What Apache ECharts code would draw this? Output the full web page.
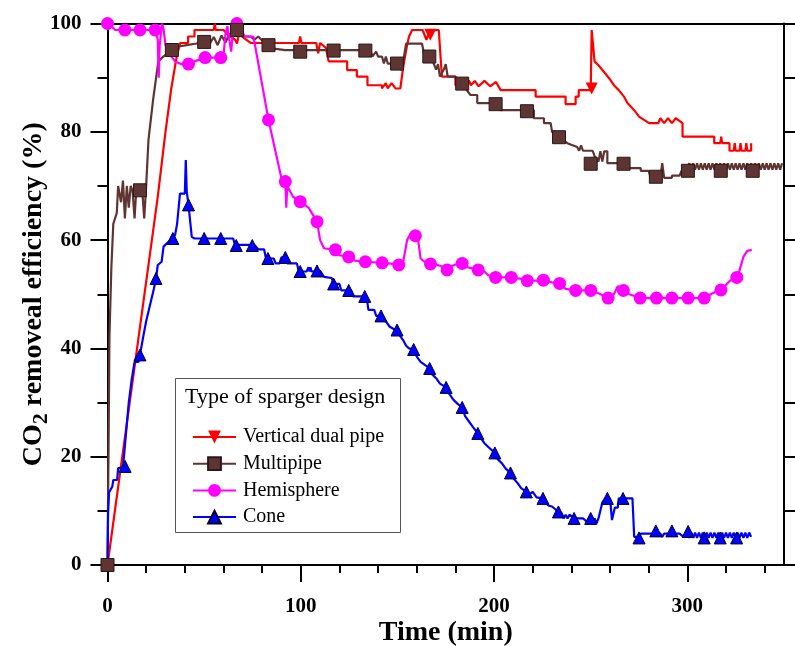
<!DOCTYPE html>
<html><head><meta charset="utf-8">
<script src="https://cdn.jsdelivr.net/npm/echarts@6/dist/echarts.min.js"></script>
<style>html,body{margin:0;padding:0;background:#fff}#c{width:795px;height:646px}</style>
</head><body><div id="c"></div>
<script>
const seriesNames = ['Vertical dual pipe', 'Multipipe', 'Hemisphere', 'Cone'];
const xMajorTicks = [0, 100, 200, 300];
const xMinorTicks = [20, 40, 60, 80, 120, 140, 160, 180, 220, 240, 260, 280, 320, 340];
const yMajorTicks = [0, 20, 40, 60, 80, 100];
const yMinorTicks = [10, 30, 50, 70, 90];
const yRightTicks = [0, 10, 20, 30, 40, 50, 60, 70, 80, 90, 100];

const dualPipeLine = [[0,0],[26,68],[30,80],[33,88],[35.8,93.9],[37.6,96.4],[41.7,96.4],[41.7,97.6],[45,97.6],[45,98.8],[55,98.8],[55.5,100],[56,98.8],[60,98.8],[62,98],[66,97],[67,96.3],[68,98],[70,97.5],[74,96.4],[77,96.4],[99,96.4],[99.7,97.6],[100.3,96.4],[108,96.4],[109,94.5],[110,96.4],[113,95.5],[114.4,93],[124,93],[124,91.4],[129,91.4],[129,90.2],[134.5,90.2],[134.5,88.6],[142,88.6],[142,88],[144,89],[145,88],[147,89],[149,88],[151.5,88],[153,92],[155,96],[156,97.6],[157.6,98.8],[163,98.8],[165,97],[167,98.8],[171.4,98.8],[173,90.2],[180,90.2],[180,88.6],[186,88.6],[187,89.5],[188,88.6],[190,89.4],[192,88.4],[195,89.4],[198,88.4],[201,89.2],[203.4,87.7],[221.5,87.7],[221.5,86.5],[237,86.5],[237,85.1],[242.2,85.1],[242.2,86.5],[243.8,86.5],[243.8,87.7],[250,87.7],[250.5,98.8],[252,93],[254,92.3],[256.8,91.1],[259.5,89.9],[262,88.6],[264.5,87.7],[267.2,86.5],[269,85.3],[272.5,84],[275,82.8],[280.2,81.6],[285,81.6],[286,82.5],[288,81.6],[290,82.5],[292,81.6],[294,82.5],[297.5,81.6],[297.5,79.1],[313.9,79.1],[313.9,77.9],[317,77.9],[317.5,79.1],[318,77.9],[321.8,77.9],[321.8,76.5],[324,76.5],[324.5,77.9],[325,76.5],[327,76.5],[327.5,77.9],[328,76.5],[330,76.5],[330.5,77.9],[331,76.5],[333,76.5],[333,77.9]];
const dualPipeMarkers = [[0,0],[167,97.9],[250.5,88]];

const multipipeLine = [[0,0],[0.5,20],[1,42],[2,55],[3,63],[4.8,65],[5.5,70],[7,67],[8,71],[9,64],[10,70],[11,66],[12,70],[13,69],[14,64],[15,70],[16,69],[18,69],[19,64],[20,70],[20.3,70],[21.2,78.5],[23.7,86.2],[26.3,93],[28.9,93.9],[33.3,95.1],[36,95.7],[41,96],[46,96.3],[50,96.6],[53,96.3],[55,97.5],[57,96],[59,97.8],[61,96.5],[63,98],[65,98.5],[67,98.8],[70,97.6],[74,97.6],[76,97],[78,97.6],[81,96.5],[83.3,96],[87,95.3],[92,95.1],[136,95.1],[137,93.9],[139,94.8],[140,93.9],[142,93.9],[143,92.6],[144,93.9],[145,92.6],[150,92.6],[152,91.4],[153,93],[154.5,96.3],[162.7,96.3],[164,94],[166.7,93.9],[168.8,92.6],[170,91.5],[171,92.5],[172,90.2],[174,91.5],[175,92.5],[176,90.2],[180,90.2],[181,89],[183.5,88.8],[187.8,86.8],[191.3,86.8],[191.3,85.3],[203.4,85.3],[203.4,84],[220.6,84],[220.6,82.5],[225.8,82.5],[225.8,81.6],[229.3,81.6],[230,80],[233.6,79.1],[237.9,77.9],[243,77.2],[244,76.5],[245,77.5],[246,76.5],[251,76.5],[252,75.5],[254,74.5],[255,76.4],[256,74.5],[257,76.4],[258.6,76.4],[258.6,74.2],[267,74.2],[270,73.3],[275.9,73.3],[275.9,72.8],[280,72.8],[281,71.5],[286,71.5],[287,74.2],[288,71.5],[292,71.5],[292,71.9],[296,71.9],[297,72.8],[300,73.3],[301,74.2],[302,73],[303,74.2],[304,73],[305,74.2],[306,73],[307,74.2],[308,73],[309,74.2],[310,73],[311,74.2],[312,73],[313,74.2],[314,73],[315,74.2],[316,73],[317,74.2],[318,73],[319,74.2],[320,73],[321,74.2],[322,73],[323,74.2],[324,73],[325,74.2],[326,73],[327,74.2],[328,73],[329,74.2],[330,73],[331,74.2],[332,73],[333,74.2],[334,73],[335,74.2],[336,73],[337,74.2],[338,73],[339,74.2],[340,73],[341,74.2],[342,73],[343,74.2],[344,73],[345,74.2],[346,73],[347,74.2],[348,73],[349,74.2]];
const multipipeMarkers = [[0,0],[16.8,69.2],[33.3,95.1],[50,96.6],[67,98.8],[83.3,96],[99.7,94.8],[117,95],[133.4,95],[149.8,92.6],[166.5,93.9],[183.5,88.9],[200.8,85.1],[217,83.8],[233.6,79],[250,74.1],[267,74.1],[283.7,71.7],[300.3,72.8],[317.3,72.8],[333.8,72.8]];

const hemisphereLine = [[0,100],[2,99.5],[4,98.8],[25,98.8],[26,97],[26.5,90],[27,96],[28.2,100],[29,99],[30,96],[32.4,94.2],[35,93],[38,92.5],[41.9,92.5],[45,93],[50.5,93.7],[58.6,93.7],[60,94],[61,98],[62,99.5],[63,97],[64,94.8],[65,99],[66,100],[67,100],[69,99],[71,97.6],[75.5,97.6],[83.3,82.2],[90.2,71.1],[91,70],[92,70.8],[92.5,66],[93,70],[96,68],[99.7,67.1],[104,66],[108.4,63.4],[110,60],[112,58.5],[117.9,58.2],[120,57.2],[124.8,56.9],[128,56.2],[133.4,56],[142,55.8],[150.7,55.5],[153,56],[155,60],[157,61.3],[159.3,61.2],[160.5,60.6],[162,56.6],[164,56],[167.1,55.6],[170,55.5],[175.7,54.8],[180,55.5],[183.5,55.7],[186,55],[191.8,54.5],[195,54.2],[197,53.5],[200.8,53.1],[208.9,53.1],[215,52.8],[217.2,52.5],[225.5,52.5],[230,52.2],[233.9,52],[237,51],[242.2,50.7],[250,50.7],[254,50.2],[258,49.5],[262,50],[264,51.5],[266.9,51],[270,50],[275.6,49.3],[308.7,49.3],[312,50],[315,50.5],[317.4,50.8],[322,52.5],[325.6,53.1],[327,54.4],[329,56.9],[331,58],[333.3,58.2]];
const hemisphereMarkers = [[0,100],[9,98.8],[16.8,98.8],[24.6,98.8],[41.9,92.5],[50.5,93.7],[58.6,93.7],[66.9,100],[83.3,82.2],[92,70.8],[99.7,67.1],[108.4,63.4],[117.9,58.2],[124.8,56.9],[133.4,56],[142.1,55.8],[150.7,55.4],[159.3,60.8],[167.1,55.6],[175.7,54.5],[183.5,55.7],[191.8,54.5],[200.8,53.1],[208.9,53.1],[217.2,52.5],[225.5,52.6],[233.9,52],[242.2,50.7],[250,50.7],[259,49.3],[266.9,50.7],[275.6,49.3],[284,49.3],[292,49.3],[300.4,49.3],[308.7,49.3],[317.4,50.8],[325.6,53.1]];

const coneLine = [[0,0],[0.3,9.5],[0.8,13.4],[2.5,14.5],[3,15.7],[5,15.7],[5.5,17.9],[8,18],[9,22],[10,26],[11,30],[12.5,34.2],[14,37.5],[16,37.5],[16.8,38.8],[18.5,42.2],[20,45],[22,48],[24,51],[25.1,52.9],[26,55.4],[28,56],[29,58.8],[31,59.5],[33.8,60.3],[35,61],[36,63],[37.5,68.6],[40,68.6],[40.5,74.8],[41,69],[41.9,66.5],[43.6,60.6],[45,60.3],[65,60.3],[66,59.1],[76,59.1],[78,58.3],[81,58.3],[82,56.6],[86,56.6],[87,55.7],[89,55.7],[90,56.8],[92,56.8],[93,55.7],[98,55.7],[99,54.2],[103,54.2],[104,55],[104.5,54.2],[105,55],[105.5,54.2],[110,54.3],[112,53.2],[116,53],[117,51.9],[120,51.9],[121,50.7],[126,50.7],[127,49.6],[134,49.6],[135,47.1],[138,47.1],[139,46],[142,46],[144,45],[146,44],[149,43.4],[151,42.5],[153,41.5],[154.5,40.5],[156,40],[158.4,39.8],[160,38.5],[162,37.5],[164,37],[166.7,36.3],[168,35.2],[170,34.5],[172,33.5],[175.2,32.8],[177,31.5],[179,30.5],[181,29.8],[183.5,29.1],[185,27.5],[187,26.5],[189,25.5],[191.6,24.3],[193,23.5],[195,22.5],[197,21.8],[200.4,20.7],[202,19.5],[204,18.8],[206,17.8],[208.5,17],[210,16],[212,15.2],[214,14.2],[216.7,13.5],[218,13],[220,13.5],[222,12.5],[225.3,12.3],[228,11],[230,10.8],[233.3,9.8],[235,9.5],[236,8.6],[237,9.3],[238,8.6],[239,9.3],[241.4,8.6],[246,8.6],[248,8],[250,8.6],[251,7.6],[252,8.6],[253,7.7],[254,8.6],[255,8.6],[256,11.5],[257.5,12.3],[260,12.3],[261,8.3],[262,8.3],[262.5,10.6],[264,10.6],[264.5,12.3],[271.6,12.3],[272.5,5.2],[275,5.2],[276,5.8],[286,5.8],[287,5.2],[288,5.8],[296,5.8],[298,5.2],[300,6],[301,5],[302,6],[303,5],[304,6],[305,5],[306,6],[307,5],[308,6],[309,5],[310,6],[311,5],[312,6],[313,5],[314,6],[315,5],[316,6],[317,5],[318,6],[319,5],[320,6],[321,5],[322,6],[323,5],[324,6],[325,5],[326,6],[327,5],[328,6],[329,5],[330,6],[331,5],[332,6],[333,5.2]];
const coneMarkers = [[0,0],[9.1,18.2],[16.8,38.8],[25.1,52.9],[33.8,60.3],[41.9,66.5],[50,60.3],[58.6,60.3],[66.6,59],[74.9,59],[83,56.6],[92,56.8],[99.7,54.2],[108.4,54.3],[117,51.9],[124.8,50.7],[133.1,49.6],[141.5,46],[149.8,43.4],[158.4,39.8],[166.7,36.3],[175.2,32.8],[183.5,29.1],[191.6,24.3],[200.4,20.7],[208.5,17],[216.7,13.5],[225.3,12.3],[233.3,9.8],[241.4,8.6],[250,8.6],[258.6,12.3],[266.7,12.3],[275,5],[283.7,6.3],[292,6.3],[300.4,6.2],[308.7,5],[317,5],[325.5,5]];

const FONT = 'Liberation Serif';
const styles = [
  {name: seriesNames[0], line: dualPipeLine, marks: dualPipeMarkers, color: '#ff0000', symbol: 'triangle', rotate: 180, size: 12, border: null},
  {name: seriesNames[1], line: multipipeLine, marks: multipipeMarkers, color: '#5e3532', symbol: 'rect', rotate: 0, size: 13, border: '#2a1716'},
  {name: seriesNames[2], line: hemisphereLine, marks: hemisphereMarkers, color: '#ff00ff', symbol: 'circle', rotate: 0, size: 13, border: null},
  {name: seriesNames[3], line: coneLine, marks: coneMarkers, color: '#0000ff', symbol: 'triangle', rotate: 0, size: 12, border: '#00002a'}
];

const series = [];
styles.forEach(s => {
  series.push({
    name: s.name, type: 'line', data: s.line, xAxisIndex: 0, yAxisIndex: 0,
    showSymbol: false, symbol: s.symbol, symbolRotate: s.rotate, symbolSize: s.size,
    color: s.color,
    lineStyle: {color: s.color, width: 2.2},
    itemStyle: {color: s.color, borderColor: s.border || s.color, borderWidth: s.border ? 1 : 0},
    animation: false, silent: true, z: 2
  });
});
[0, 2, 3, 1].forEach(i => {
  const s = styles[i];
  series.push({
    name: s.name, type: 'scatter', data: s.marks, xAxisIndex: 0, yAxisIndex: 0,
    symbol: s.symbol, symbolRotate: s.rotate, symbolSize: s.size,
    itemStyle: {color: s.color, borderColor: s.border || s.color, borderWidth: s.border ? 1 : 0, opacity: 1},
    animation: false, silent: true, z: 3
  });
});

const axisLineStyle = {show: true, onZero: false, lineStyle: {color: '#000', width: 2}};
const noLine = {show: false, onZero: false};
const chart = echarts.init(document.getElementById('c'), null, {renderer: 'canvas'});
chart.setOption({
  backgroundColor: '#fff',
  animation: false,
  grid: {left: 107.5, right: 11, top: 23.5, bottom: 81, containLabel: false, outerBoundsMode: 'none'},
  xAxis: [
    {type: 'value', position: 'bottom', min: 0, max: 350,
     axisLine: axisLineStyle, splitLine: {show: false},
     axisTick: {show: true, customValues: xMajorTicks, length: 17, lineStyle: {color: '#000', width: 2}},
     axisLabel: {customValues: xMajorTicks, margin: 31, color: '#000', fontFamily: FONT, fontWeight: 'bold', fontSize: 21},
     name: 'Time (min)', nameLocation: 'middle', nameGap: 54, nameMoveOverlap: false,
     nameTextStyle: {color: '#000', fontFamily: FONT, fontWeight: 'bold', fontSize: 28}},
    {type: 'value', position: 'bottom', min: 0, max: 350, offset: 0,
     axisLine: noLine, splitLine: {show: false},
     axisTick: {show: true, customValues: xMinorTicks, length: 8, lineStyle: {color: '#000', width: 2}},
     axisLabel: {show: false}},
    {type: 'value', position: 'top', min: 0, max: 350,
     axisLine: axisLineStyle, splitLine: {show: false}, axisTick: {show: false}, axisLabel: {show: false}}
  ],
  yAxis: [
    {type: 'value', position: 'left', min: 0, max: 100,
     axisLine: axisLineStyle, splitLine: {show: false},
     axisTick: {show: true, customValues: yMajorTicks, length: 17, lineStyle: {color: '#000', width: 2}},
     axisLabel: {customValues: yMajorTicks, margin: 26, color: '#000', fontFamily: FONT, fontWeight: 'bold', fontSize: 21},
     name: 'CO{sub|2} removeal efficiency (%)', nameLocation: 'middle', nameGap: 55, nameRotate: 90, nameMoveOverlap: false,
     nameTextStyle: {color: '#000', fontFamily: FONT, fontWeight: 'bold', fontSize: 28, lineHeight: 38,
       rich: {sub: {fontFamily: FONT, fontWeight: 'bold', fontSize: 22, color: '#000', verticalAlign: 'bottom', lineHeight: 24}}}},
    {type: 'value', position: 'left', min: 0, max: 100, offset: 0,
     axisLine: noLine, splitLine: {show: false},
     axisTick: {show: true, customValues: yMinorTicks, length: 10, lineStyle: {color: '#000', width: 2}},
     axisLabel: {show: false}},
    {type: 'value', position: 'right', min: 0, max: 100,
     axisLine: axisLineStyle, splitLine: {show: false},
     axisTick: {show: true, customValues: yRightTicks, length: 11, lineStyle: {color: '#000', width: 2}},
     axisLabel: {show: false}}
  ],
  legend: {
    data: seriesNames, orient: 'vertical', left: 187, top: 422, z: 10,
    itemWidth: 43, itemHeight: 16, itemGap: 6.7,
    textStyle: {fontFamily: FONT, fontSize: 20, color: '#000', lineHeight: 20, padding: [0, 0, 0, 2]},
    selectedMode: false
  },
  graphic: [
    {type: 'rect', left: 175, top: 378, z: 8, shape: {width: 225, height: 154},
     style: {fill: '#fff', stroke: '#555', lineWidth: 1}},
    {type: 'text', left: 185, top: 386, z: 9,
     style: {text: 'Type of sparger design', fontFamily: FONT, fontSize: 22, fill: '#000'}}
  ],
  series: series
});
</script>
</body></html>
